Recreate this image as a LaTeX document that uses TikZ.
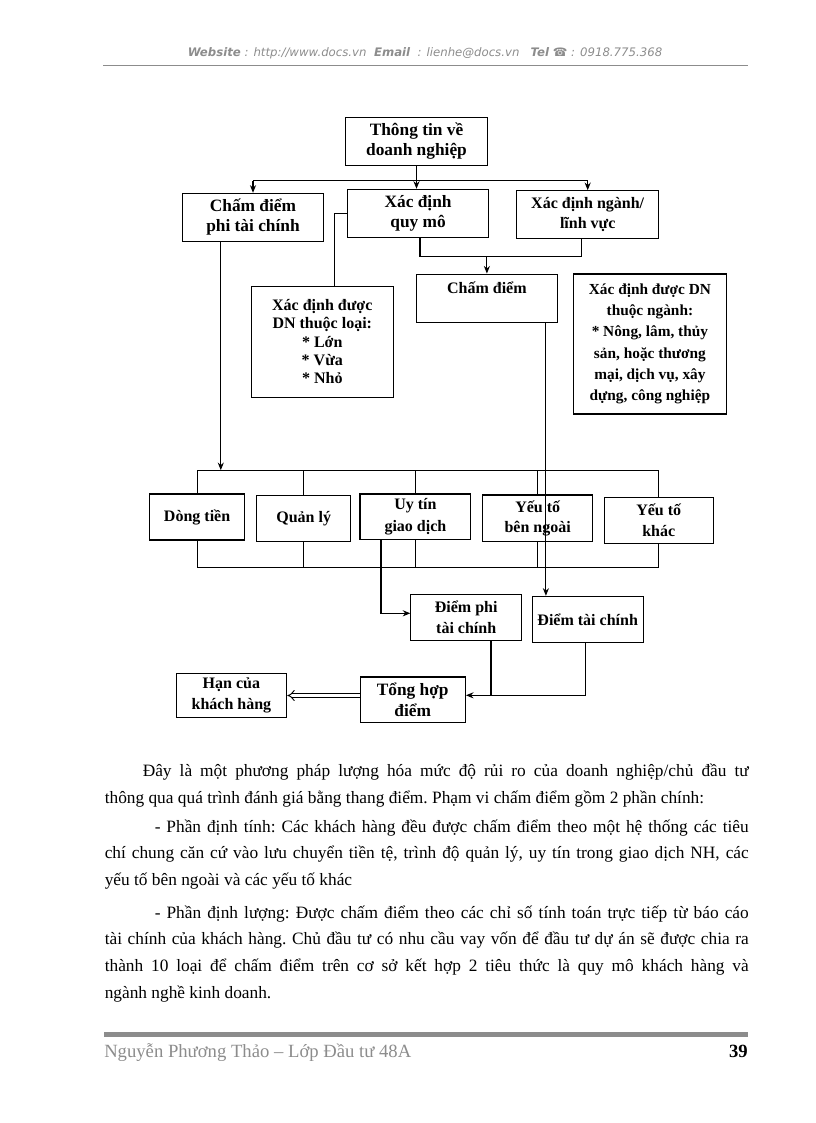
\documentclass[tikz,border=0pt]{standalone}
\usepackage{fontspec}
\setmainfont{Liberation Serif}
\newfontfamily\headfont{DejaVu Sans}
\usetikzlibrary{positioning,calc,arrows.meta}
\colorlet{pagegray}{black!45}

\begin{document}
\begin{tikzpicture}[x=0.75pt, y=-0.75pt, block/.style 2 args={draw, line width=0.8pt, align=center, inner sep=2pt, minimum width=#1, minimum height=#2, font=\bfseries\fontsize{12}{15.5}\selectfont}]

\useasboundingbox (0,0) rectangle (816,1123);

% HEADER

\node[font=\headfont\fontsize{8.8}{10}\selectfont\itshape, text=pagegray] (header) at (425,53)
{\textbf{Website} : http://www.docs.vn\ \ \textbf{Email}\ \ : lienhe@docs.vn\ \ \ \textbf{Tel} ☎ : 0918.775.368};
\draw[pagegray, line width=0.5pt] (103,65) -- (748,65);

% BOXES

\node[block={106.1pt}{36pt}, font=\bfseries\fontsize{13}{15}\selectfont] (info) at (416.5,141.3) {Thông tin về\\doanh nghiệp};

\node[block={106.1pt}{36pt}, font=\bfseries\fontsize{13}{15}\selectfont] (nontc) at (253,217.3) {Chấm điểm\\phi tài chính};

\node[block={105.6pt}{36pt}, font=\bfseries\fontsize{13}{15.5}\selectfont] (scale) at (418.1,213.3) {Xác định\\quy mô};

\node[block={106.2pt}{35.7pt}] (sector) at (587.7,214.5) {Xác định ngành/\\lĩnh vực};

\node[block={106.1pt}{83.5pt}, font=\bfseries\fontsize{12}{13.7}\selectfont] (sizeinfo) at (322.3,341.7)
{Xác định được\\DN thuộc loại:\\* Lớn\\* Vừa\\* Nhỏ};

\node[block={106.3pt}{36.2pt}] (score) at (486.9,298.2) {Chấm điểm\\ \mbox{}};

\node[block={114.2pt}{105pt}, font=\bfseries\fontsize{11.5}{16}\selectfont] (sectorinfo) at (649.9,344)
{Xác định được DN\\thuộc ngành:\\* Nông, lâm, thủy\\sản, hoặc thương\\mại, dịch vụ, xây\\dựng, công nghiệp};

\node[block={71.3pt}{34.5pt}] (cash) at (197.1,517) {Dòng tiền};
\node[block={70.7pt}{34.5pt}] (mgmt) at (303.7,518.3) {Quản lý};
\node[block={83.1pt}{33.8pt}, font=\bfseries\fontsize{12}{16.3}\selectfont] (credit) at (415.4,516.5) {Uy tín\\giao dịch};
\node[block={82.5pt}{35pt}] (external) at (537.7,518.3) {Yếu tố\\bên ngoài};
\node[block={82pt}{34.5pt}, font=\bfseries\fontsize{12}{16.3}\selectfont] (other) at (658.7,520.3) {Yếu tố\\khác};

\node[block={83pt}{34.7pt}] (ntcscore) at (466.2,617.2) {Điểm phi\\tài chính};
\node[block={83pt}{34.5pt}] (tcscore) at (587.7,619.3) {Điểm tài chính};

\node[block={79pt}{33.8pt}, font=\bfseries\fontsize{13}{16}\selectfont] (total) at (412.7,699.5) {Tổng hợp\\điểm};
\node[block={83pt}{33.3pt}] (limit) at (231.4,695.5) {Hạn của\\khách hàng};

% CONNECTORS

\coordinate (infobus) at ($(info.south)+(0,14.7)$);
\draw[line width=0.8pt] (infobus -| nontc.north) -- (infobus -| sector.north);
\draw[line width=0.8pt, -{Stealth[length=2mm, width=1.6mm]}] (infobus -| nontc.north) -- (nontc.north);
\draw[line width=0.8pt, -{Stealth[length=2mm, width=1.6mm]}] (info.south) -- (info.south |- scale.north);
\draw[line width=0.8pt, -{Stealth[length=2mm, width=1.6mm]}] (infobus -| sector.north) -- (sector.north);

\draw[line width=0.8pt] (scale.west) -| ($(sizeinfo.north)+(11.9,0)$);

\coordinate (scalebus) at ($(scale.south)+(0,18.7)$);
\draw[line width=0.8pt] ($(scale.south)+(1.9,0)$) -- ++(0,18.7) -| ($(sector.south)+(-6,0)$);
\draw[line width=0.8pt, -{Stealth[length=2mm, width=1.6mm]}] (scalebus -| score.north) -- (score.north);

\coordinate (tbus) at ($(cash.north)+(0,-23.3)$);
\coordinate (bbus) at ($(cash.south)+(0,26.7)$);
\draw[line width=0.8pt] (cash.north |- tbus) -- (other.north |- tbus);
\draw[line width=0.8pt] (cash.south |- bbus) -- (other.south |- bbus);
\foreach \b in {cash,mgmt,credit,external,other} {
  \draw[line width=0.8pt] (\b.north |- tbus) -- (\b.north);
  \draw[line width=0.8pt] (\b.south) -- (\b.south |- bbus);
}

\coordinate (nontcout) at ($(nontc.south)+(-32.2,0)$);
\draw[line width=0.8pt, -{Stealth[length=2mm, width=1.6mm]}] (nontcout) -- (nontcout |- tbus);

\coordinate (scoreout) at ($(score.south)+(59,0)$);
\draw[line width=0.8pt, -{Stealth[length=2mm, width=1.6mm]}] (scoreout) -- (scoreout |- tcscore.north);

\coordinate (creditout) at ($(credit.south)+(-34.4,0)$);
\draw[line width=0.8pt, -{Stealth[length=2mm, width=1.6mm]}] (creditout) |- ($(ntcscore.west)+(0,-3.9)$);

\coordinate (totalin) at ($(total.east)+(0,-4.2)$);
\coordinate (ntcout) at ($(ntcscore.south)+(24.8,0)$);
\draw[line width=0.8pt] (ntcout) -- (ntcout |- totalin);
\draw[line width=0.8pt, -{Stealth[length=2mm, width=1.6mm]}] ($(tcscore.south)+(-2.3,0)$) |- (totalin);

\draw[line width=0.7pt, double, double distance=2.2pt, -{Implies[scale=1.4]}] (total.west |- limit.east) -- (limit.east);

% TEXT

\node[anchor=north west, inner sep=0pt, text width=483pt, align=justify, font=\fontsize{13}{20}\selectfont] (body) at (104.5,758)
{\setlength{\parindent}{0pt}\frenchspacing\hyphenpenalty=10000\exhyphenpenalty=10000
\strut\hspace*{28.5pt}Đây là một phương pháp lượng hóa mức độ rủi ro của doanh nghiệp/chủ đầu tư\linebreak
thông qua quá trình đánh giá bằng thang điểm. Phạm vi chấm điểm gồm 2 phần chính:\par
\vspace{1.5pt}
\strut\hspace*{37.5pt}- Phần định tính: Các khách hàng đều được chấm điểm theo một hệ thống các tiêu\linebreak
chí chung căn cứ vào lưu chuyển tiền tệ, trình độ quản lý, uy tín trong giao dịch NH, các\linebreak
yếu tố bên ngoài và các yếu tố khác\par
\vspace{4.5pt}
\strut\hspace*{37.5pt}- Phần định lượng: Được chấm điểm theo các chỉ số tính toán trực tiếp từ báo cáo\linebreak
tài chính của khách hàng. Chủ đầu tư có nhu cầu vay vốn để đầu tư dự án sẽ được chia ra\linebreak
thành 10 loại để chấm điểm trên cơ sở kết hợp 2 tiêu thức là quy mô khách hàng và\linebreak
ngành nghề kinh doanh.};

% FOOTER

\draw[pagegray, line width=3.5pt] (104,1034.2) -- (748,1034.2);
\node[anchor=base west, inner sep=0pt, text=pagegray, font=\fontsize{14}{16}\selectfont] (author) at (104,1057) {Nguyễn Phương Thảo – Lớp Đầu tư 48A};
\node[anchor=base east, inner sep=0pt, font=\bfseries\fontsize{14}{16}\selectfont] (pagenum) at (748,1057) {39};

\end{tikzpicture}
\end{document}
